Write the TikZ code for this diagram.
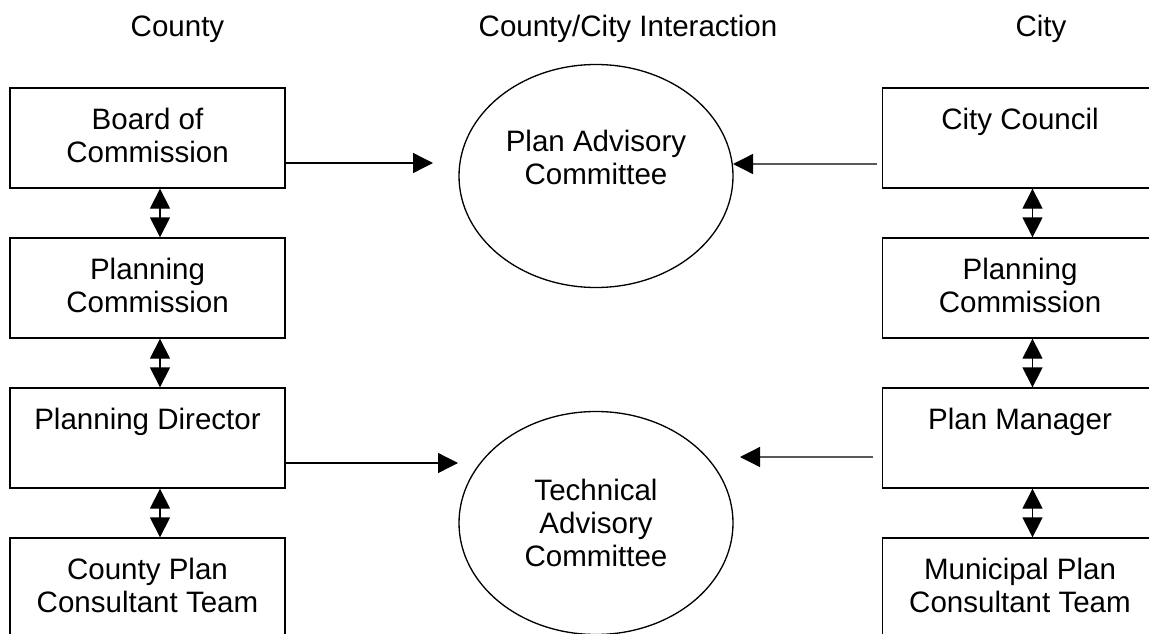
\documentclass[tikz,border=0pt]{standalone}
\usepackage{fontspec}
\setmainfont{Liberation Sans}
\usetikzlibrary{arrows.meta,shapes.geometric}

\begin{document}
\begin{tikzpicture}[
    font=\fontsize{16.8}{19}\selectfont,
    line width=0.75pt,
    unit/.style={draw, rectangle, minimum width=5.5cm, minimum height=2cm, inner sep=0pt},
    unittext/.style={anchor=north, align=center, inner sep=0pt, yshift=-0.4cm},
    committee/.style={draw, ellipse, minimum width=5.48cm, minimum height=4.46cm, align=center, inner sep=0pt},
    link/.style={-{Triangle[length=0.4cm,width=0.4cm]}},
    both/.style={{Triangle[length=0.4cm,width=0.4cm]}-{Triangle[length=0.4cm,width=0.4cm]}}
]
    \useasboundingbox (0,0) rectangle (22.98,12.66);
    \clip (0,0) rectangle (22.98,12.66);

    \node[anchor=base] (hcounty) at (3.55,11.92) {County};
    \node[anchor=base] (hboth) at (12.56,11.92) {County/City Interaction};
    \node[anchor=base] (hcity) at (20.82,11.92) {City};

    % county side
    \node[unit, label={[unittext]north:{Board of\\Commission}}] (bc) at (2.95,9.9) {};
    \node[unit, label={[unittext]north:{Planning\\Commission}}] (cpc) at (2.95,6.9) {};
    \node[unit, label={[unittext]north:{Planning Director}}] (pd) at (2.95,3.9) {};
    \node[unit, label={[unittext]north:{County Plan\\Consultant Team}}] (cpt) at (2.95,0.9) {};

    \draw[both] ([xshift=0.25cm]bc.south) -- ([xshift=0.25cm]cpc.north);
    \draw[both] ([xshift=0.25cm]cpc.south) -- ([xshift=0.25cm]pd.north);
    \draw[both] ([xshift=0.25cm]pd.south) -- ([xshift=0.25cm]cpt.north);

    % city side
    \node[unit, label={[unittext]north:{City Council}}] (cc) at (20.4,9.9) {};
    \node[unit, label={[unittext]north:{Planning\\Commission}}] (mpc) at (20.4,6.9) {};
    \node[unit, label={[unittext]north:{Plan Manager}}] (pm) at (20.4,3.9) {};
    \node[unit, label={[unittext]north:{Municipal Plan\\Consultant Team}}] (mpt) at (20.4,0.9) {};

    \draw[both] ([xshift=0.25cm]cc.south) -- ([xshift=0.25cm]mpc.north);
    \draw[both] ([xshift=0.25cm]mpc.south) -- ([xshift=0.25cm]pm.north);
    \draw[both] ([xshift=0.25cm]pm.south) -- ([xshift=0.25cm]mpt.north);

    % interaction
    \node[committee, label={[align=center, yshift=0.37cm]center:{Plan Advisory\\Committee}}] (pac) at (11.92,9.14) {};
    \node[committee] (tac) at (11.92,2.2) {Technical\\Advisory\\Committee};

    \coordinate (pacleft) at (8.66,9.4);
    \coordinate (pacright) at (14.66,9.38);
    \coordinate (tacleft) at (9.16,3.4);
    \coordinate (tacright) at (14.8,3.52);

    \draw[link] ([yshift=-0.5cm]bc.east) -- (pacleft);
    \draw[link, shorten <=0.1cm] ([yshift=-0.52cm]cc.west) -- (pacright);
    \draw[link] ([yshift=-0.5cm]pd.east) -- (tacleft);
    \draw[link, shorten <=0.18cm] ([yshift=-0.38cm]pm.west) -- (tacright);

\end{tikzpicture}
\end{document}
